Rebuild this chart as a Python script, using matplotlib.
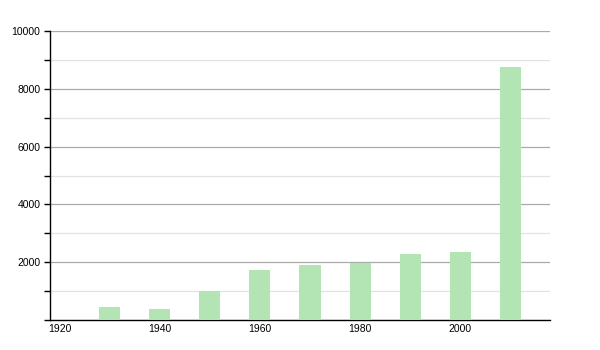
import matplotlib.pyplot as plt
from matplotlib.ticker import MultipleLocator

years = [1930, 1940, 1950, 1960, 1970, 1980, 1990, 2000, 2010]
population = [450, 370, 1000, 1730, 1900, 1980, 2280, 2350, 8750]
xticks = [1920, 1940, 1960, 1980, 2000]

plt.rcParams['font.family'] = ['Liberation Sans', 'DejaVu Sans']

fig = plt.figure(figsize=(6, 3.5), dpi=100)
ax = fig.add_axes([0.0833, 0.0857, 0.8334, 0.8257])

ax.bar(years, population, width=4.2, color='#b3e5b4', zorder=3)

ax.set_xlim(1918, 2018)
ax.set_ylim(0, 10000)
ax.set_xticks(xticks)
ax.set_xticklabels([str(x) for x in xticks])
ax.yaxis.set_major_locator(MultipleLocator(2000))
ax.yaxis.set_minor_locator(MultipleLocator(1000))
ax.set_yticks([2000, 4000, 6000, 8000, 10000])

ax.grid(axis='y', which='major', color='#aaaaaa', linewidth=0.9, zorder=0)
ax.grid(axis='y', which='minor', color='#e2e2e2', linewidth=0.9, zorder=0)

for s in ['top', 'right']:
    ax.spines[s].set_visible(False)
ax.spines['left'].set_linewidth(1)
ax.spines['bottom'].set_linewidth(1)

ax.tick_params(axis='y', which='both', length=4, width=1, labelsize=7.5, pad=3)
ax.tick_params(axis='x', length=0, labelsize=7.5, pad=3)

fig.savefig('out.png')
